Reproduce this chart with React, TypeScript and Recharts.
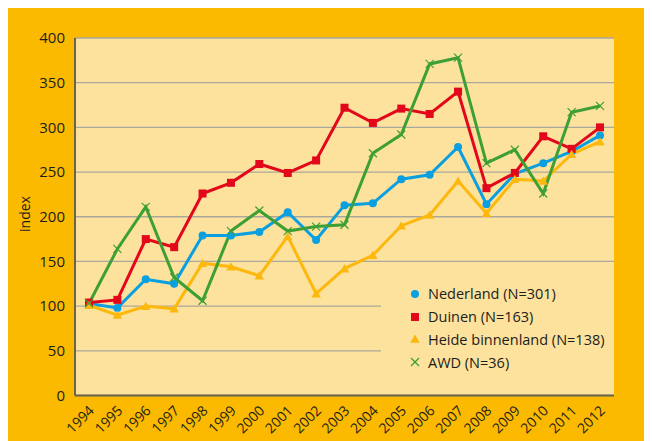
import React from 'react';
import { LineChart, Line, XAxis, YAxis, CartesianGrid, Legend } from 'recharts';

const years = ['1994', '1995', '1996', '1997', '1998', '1999', '2000', '2001', '2002', '2003', '2004', '2005', '2006', '2007', '2008', '2009', '2010', '2011', '2012'];
const yTicks = [0, 50, 100, 150, 200, 250, 300, 350, 400];

const nederland = [103, 98, 130, 125, 179, 179, 183, 205, 174, 213, 215, 242, 247, 278, 214, 248, 260, 273, 291];
const duinen = [104, 107, 175, 166, 226, 238, 259, 249, 263, 322, 305, 321, 315, 340, 232, 249, 290, 276, 300];
const heide = [101, 90, 100, 97, 148, 144, 134, 178, 114, 142, 157, 190, 202, 240, 204, 242, 240, 270, 284];
const awd = [103, 164, 211, 132, 106, 184, 207, 184, 189, 191, 271, 292, 371, 378, 260, 275, 226, 317, 324];

const seriesKeys = ['nederland', 'duinen', 'heide', 'awd'];
const seriesNames = ['Nederland (N=301)', 'Duinen (N=163)', 'Heide binnenland (N=138)', 'AWD (N=36)'];
const seriesColors = ['#0A9FE0', '#E2071A', '#FDB80E', '#3D9F35'];
const seriesMarkers = ['circle', 'square', 'triangle', 'cross'];
const seriesValues = [nederland, duinen, heide, awd];

const data = years.map((year, i) => {
  const row: Record<string, any> = { year };
  seriesKeys.forEach((k, s) => {
    row[k] = seriesValues[s][i];
  });
  return row;
});

const ORANGE = '#FBB900';
const PALE = '#FCE29C';
const FONT = '"Open Sans", sans-serif';
const TEXT = '#1d1d1b';

function Marker({ shape, cx, cy, color }: { shape: string; cx: number; cy: number; color: string }) {
  if (cx == null || cy == null) return null;
  if (shape === 'circle') return <circle cx={cx} cy={cy} r={4} fill={color} />;
  if (shape === 'square') return <rect x={cx - 4} y={cy - 4} width={8} height={8} fill={color} />;
  if (shape === 'triangle')
    return <path d={`M${cx},${cy - 4.5} L${cx + 4.7},${cy + 3.8} L${cx - 4.7},${cy + 3.8} Z`} fill={color} />;
  return (
    <g stroke={color} strokeWidth={1.2}>
      <line x1={cx - 4} y1={cy - 4} x2={cx + 4} y2={cy + 4} />
      <line x1={cx - 4} y1={cy + 4} x2={cx + 4} y2={cy - 4} />
    </g>
  );
}

const XTick = (props: any) => {
  const { x, y, payload } = props;
  return (
    <g transform={`translate(${x + 6},${y + 16})`}>
      <text transform="rotate(-45)" textAnchor="end" fontFamily={FONT} fontSize={14} fill={TEXT}>
        {payload.value}
      </text>
    </g>
  );
};

const renderLegend = () => (
  <div
    style={{
      width: 233,
      height: 128,
      background: PALE,
      boxSizing: 'border-box',
      paddingTop: 16.6,
      fontFamily: FONT,
      fontSize: 14.5,
      color: TEXT,
    }}
  >
    {seriesNames.map((n, i) => (
      <div key={n} style={{ display: 'flex', alignItems: 'center', height: 22.7 }}>
        <svg width={47} height={22} style={{ flex: 'none' }}>
          <Marker shape={seriesMarkers[i]} cx={34} cy={11} color={seriesColors[i]} />
        </svg>
        <span style={{ whiteSpace: 'nowrap' }}>{n}</span>
      </div>
    ))}
  </div>
);

export default function App() {
  return (
    <div style={{ width: 644, height: 433, background: ORANGE }}>
      <LineChart width={644} height={433} data={data} margin={{ top: 30, right: 38, bottom: 0, left: 0 }}>
        <CartesianGrid vertical={false} stroke="#ABA79C" strokeWidth={1.3} fill={PALE} />
        <XAxis
          dataKey="year"
          height={45.5}
          padding={{ left: 14, right: 14 }}
          tickLine={false}
          tickSize={0}
          tickMargin={0}
          interval={0}
          axisLine={{ stroke: '#6B6449', strokeWidth: 2 }}
          tick={<XTick />}
        />
        <YAxis
          width={67}
          domain={[0, 400]}
          ticks={yTicks}
          interval={0}
          tickLine={false}
          tickSize={0}
          tickMargin={10}
          axisLine={{ stroke: '#6B6449', strokeWidth: 2 }}
          tick={{ fontFamily: FONT, fontSize: 15, fill: TEXT }}
          label={() => (
            <text
              transform="translate(16,206) rotate(-90)"
              textAnchor="middle"
              dominantBaseline="central"
              fontFamily={FONT}
              fontSize={14}
              fill={TEXT}
            >
              index
            </text>
          )}
        />
        {seriesKeys.map((k, i) => (
          <Line
            key={k}
            type="linear"
            dataKey={k}
            name={seriesNames[i]}
            stroke={seriesColors[i]}
            strokeWidth={3}
            isAnimationActive={false}
            activeDot={false}
            dot={(p: any) => (
              <Marker key={`${k}-${p.index}`} shape={seriesMarkers[i]} cx={p.cx} cy={p.cy} color={seriesColors[i]} />
            )}
          />
        ))}
        <Legend
          layout="vertical"
          align="center"
          verticalAlign="middle"
          wrapperStyle={{ left: 373, top: 258, width: 233, height: 128 }}
          content={renderLegend}
        />
      </LineChart>
    </div>
  );
}
